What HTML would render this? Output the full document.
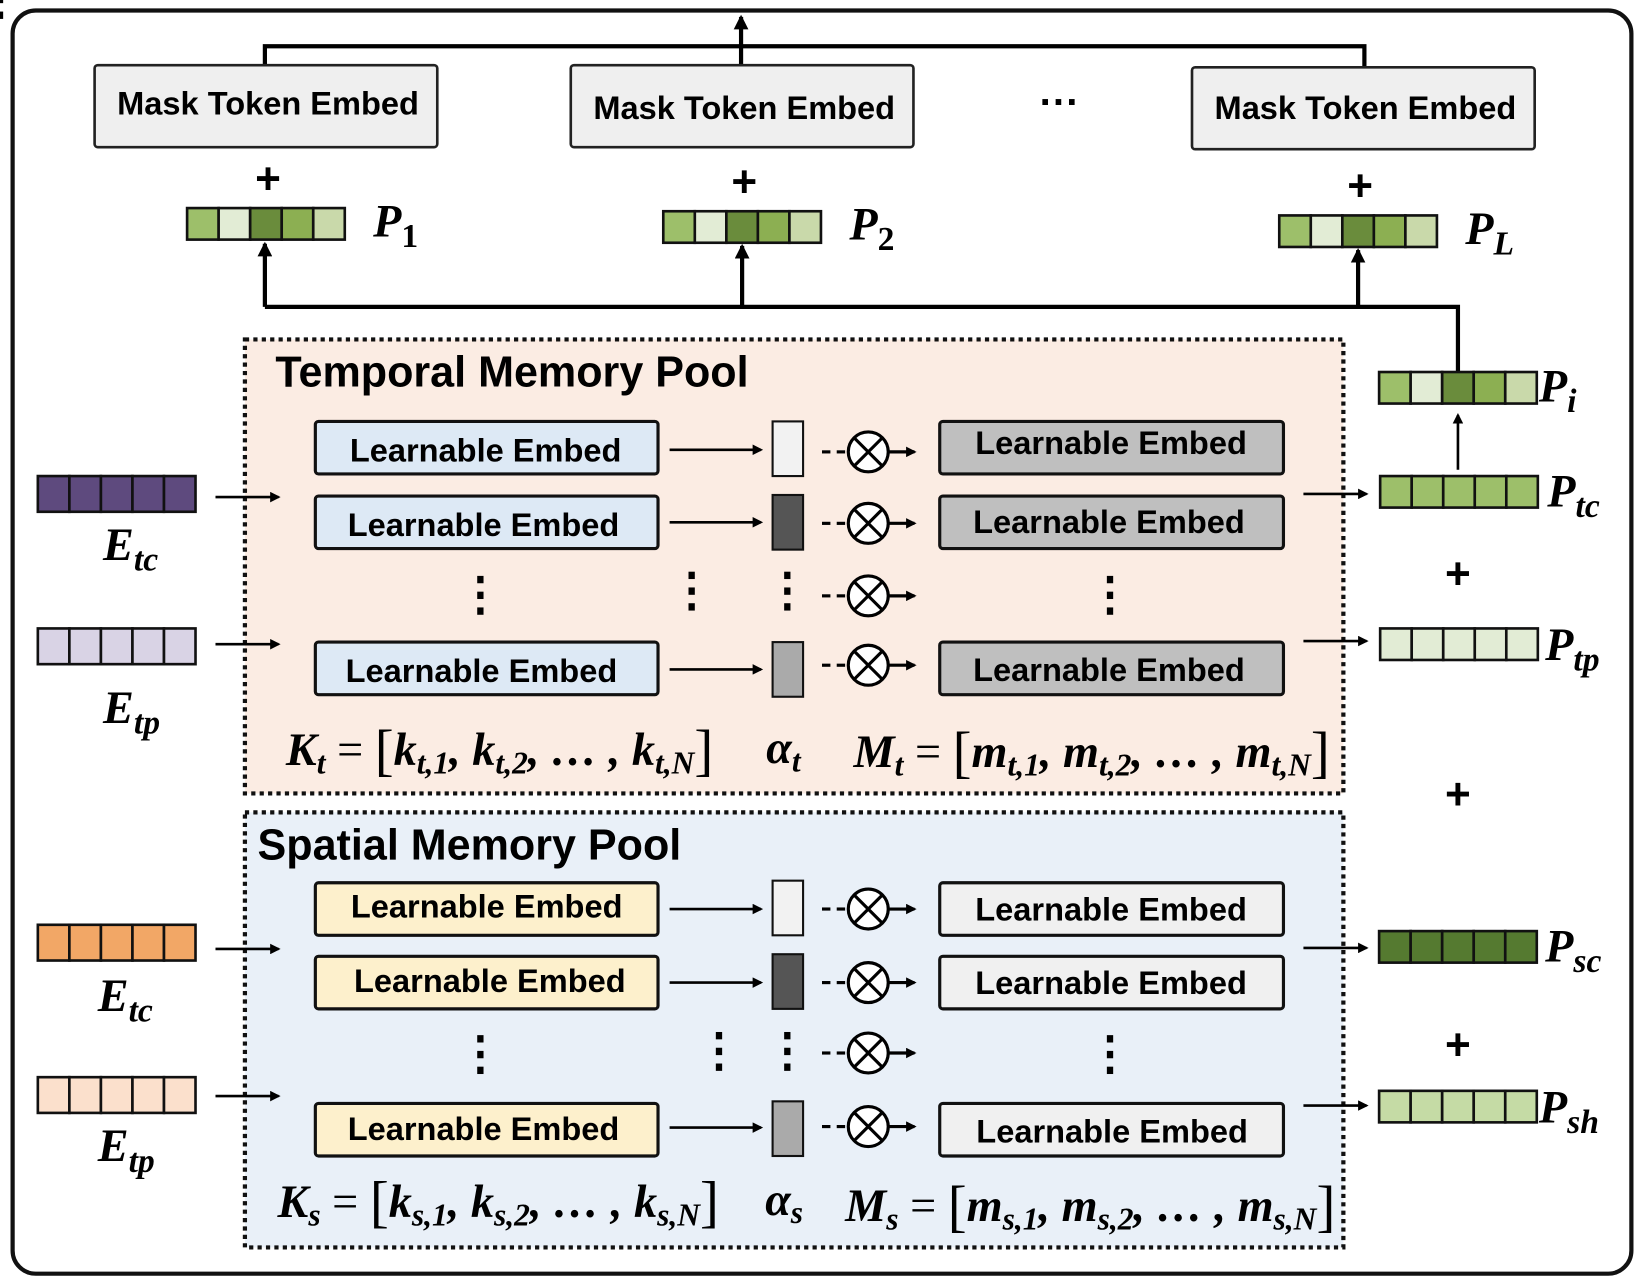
<!DOCTYPE html>
<html><head><style>html,body{margin:0;padding:0;background:#fff}svg{display:block}</style></head><body>
<svg width="1644" height="1280" viewBox="0 0 1564 1218" preserveAspectRatio="none" xmlns="http://www.w3.org/2000/svg">
<defs>
<marker id="ah" markerWidth="10" markerHeight="10" refX="8" refY="5" orient="auto" markerUnits="userSpaceOnUse"><path d="M0,0 L10,5 L0,10 z" fill="#000"/></marker>
<marker id="ab" markerWidth="14" markerHeight="14" refX="12" refY="7" orient="auto" markerUnits="userSpaceOnUse"><path d="M0,0 L14,7 L0,14 z" fill="#000"/></marker>
</defs>
<rect width="1564" height="1218" fill="#fff"/>
<rect x="12" y="10" width="1540" height="1202" rx="22" fill="none" stroke="#111" stroke-width="4"/>
<g font-family="Liberation Sans, sans-serif" font-weight="bold">
<path d="M252,62 V44 H1298 V64" fill="none" stroke="#000" stroke-width="4"/>
<line x1="705" y1="62" x2="705" y2="16" stroke="#000" stroke-width="4" marker-end="url(#ab)"/>
<g fill="#efefef" stroke="#222" stroke-width="2.5">
<rect x="90" y="62" width="326" height="78" rx="3"/>
<rect x="543" y="62" width="326" height="78" rx="3"/>
<rect x="1134" y="64" width="326" height="78" rx="3"/>
</g>
<g font-size="31" text-anchor="middle">
<text x="255" y="109">Mask Token Embed</text>
<text x="708" y="113">Mask Token Embed</text>
<text x="1299" y="113">Mask Token Embed</text>
</g>
<text x="1008" y="110" font-size="38" text-anchor="middle">···</text>
<g font-size="42" text-anchor="middle">
<text x="255" y="184">+</text><text x="708" y="187">+</text><text x="1294" y="191">+</text>
<text x="1387" y="560">+</text><text x="1387" y="770">+</text><text x="1387" y="1008">+</text>
</g>
<path d="M252,292 H1387 V354" fill="none" stroke="#000" stroke-width="4"/>
<line x1="252" y1="292" x2="252" y2="232" stroke="#000" stroke-width="4" marker-end="url(#ab)"/>
<line x1="706" y1="292" x2="706" y2="234" stroke="#000" stroke-width="4" marker-end="url(#ab)"/>
<line x1="1292" y1="292" x2="1292" y2="238" stroke="#000" stroke-width="4" marker-end="url(#ab)"/>
<line x1="1387" y1="447" x2="1387" y2="395" stroke="#000" stroke-width="2.5" marker-end="url(#ah)"/>
</g>
<g stroke="#111" stroke-width="2.5">
<g transform="translate(178,198)"><rect width="30" height="30" fill="#9dbf6a"/><rect x="30" width="30" height="30" fill="#e2ecd5"/><rect x="60" width="30" height="30" fill="#6a8c3c"/><rect x="90" width="30" height="30" fill="#8caf52"/><rect x="120" width="30" height="30" fill="#c9d9aa"/></g>
<g transform="translate(631,201)"><rect width="30" height="30" fill="#9dbf6a"/><rect x="30" width="30" height="30" fill="#e2ecd5"/><rect x="60" width="30" height="30" fill="#6a8c3c"/><rect x="90" width="30" height="30" fill="#8caf52"/><rect x="120" width="30" height="30" fill="#c9d9aa"/></g>
<g transform="translate(1217,205)"><rect width="30" height="30" fill="#9dbf6a"/><rect x="30" width="30" height="30" fill="#e2ecd5"/><rect x="60" width="30" height="30" fill="#6a8c3c"/><rect x="90" width="30" height="30" fill="#8caf52"/><rect x="120" width="30" height="30" fill="#c9d9aa"/></g>
<g transform="translate(1312,354)"><rect width="30" height="30" fill="#9dbf6a"/><rect x="30" width="30" height="30" fill="#e2ecd5"/><rect x="60" width="30" height="30" fill="#6a8c3c"/><rect x="90" width="30" height="30" fill="#8caf52"/><rect x="120" width="30" height="30" fill="#c9d9aa"/></g>
<g transform="translate(1313,453)" fill="#9dbf6a"><rect width="30" height="30"/><rect x="30" width="30" height="30"/><rect x="60" width="30" height="30"/><rect x="90" width="30" height="30"/><rect x="120" width="30" height="30"/></g>
<g transform="translate(1313,598)" fill="#e2ecd5"><rect width="30" height="30"/><rect x="30" width="30" height="30"/><rect x="60" width="30" height="30"/><rect x="90" width="30" height="30"/><rect x="120" width="30" height="30"/></g>
<g transform="translate(1312,886)" fill="#557a30"><rect width="30" height="30"/><rect x="30" width="30" height="30"/><rect x="60" width="30" height="30"/><rect x="90" width="30" height="30"/><rect x="120" width="30" height="30"/></g>
<g transform="translate(1312,1038)" fill="#c5dba5"><rect width="30" height="30"/><rect x="30" width="30" height="30"/><rect x="60" width="30" height="30"/><rect x="90" width="30" height="30"/><rect x="120" width="30" height="30"/></g>
<g transform="translate(36,453)" fill="#5e4a7e"><rect width="30" height="34"/><rect x="30" width="30" height="34"/><rect x="60" width="30" height="34"/><rect x="90" width="30" height="34"/><rect x="120" width="30" height="34"/></g>
<g transform="translate(36,598)" fill="#d9d3e5"><rect width="30" height="34"/><rect x="30" width="30" height="34"/><rect x="60" width="30" height="34"/><rect x="90" width="30" height="34"/><rect x="120" width="30" height="34"/></g>
<g transform="translate(36,880)" fill="#f2a766"><rect width="30" height="34"/><rect x="30" width="30" height="34"/><rect x="60" width="30" height="34"/><rect x="90" width="30" height="34"/><rect x="120" width="30" height="34"/></g>
<g transform="translate(36,1025)" fill="#fbe0cc"><rect width="30" height="34"/><rect x="30" width="30" height="34"/><rect x="60" width="30" height="34"/><rect x="90" width="30" height="34"/><rect x="120" width="30" height="34"/></g>
</g>
<g font-family="Liberation Serif, serif" font-style="italic" font-weight="bold" font-size="44">
<text x="355" y="225">P<tspan font-size="32" dy="10" font-style="normal">1</tspan></text>
<text x="808" y="228">P<tspan font-size="32" dy="10" font-style="normal">2</tspan></text>
<text x="1394" y="232">P<tspan font-size="32" dy="10">L</tspan></text>
<text x="1464" y="382">P<tspan font-size="32" dy="10">i</tspan></text>
<text x="1472" y="482">P<tspan font-size="32" dy="10">tc</tspan></text>
<text x="1470" y="628">P<tspan font-size="32" dy="10">tp</tspan></text>
<text x="1470" y="915">P<tspan font-size="32" dy="10">sc</tspan></text>
<text x="1464" y="1068">P<tspan font-size="32" dy="10">sh</tspan></text>
<text x="98" y="533">E<tspan font-size="32" dy="10">tc</tspan></text>
<text x="98" y="688">E<tspan font-size="32" dy="10">tp</tspan></text>
<text x="93" y="962">E<tspan font-size="32" dy="10">tc</tspan></text>
<text x="93" y="1105">E<tspan font-size="32" dy="10">tp</tspan></text>
</g>
<rect x="233" y="323" width="1045" height="432" fill="#fbece3" stroke="#111" stroke-width="4" stroke-dasharray="4,4"/>
<rect x="233" y="773" width="1045" height="414" fill="#e9f0f8" stroke="#111" stroke-width="4" stroke-dasharray="4,4"/>
<g font-family="Liberation Sans, sans-serif" font-weight="bold">
<text x="262" y="368" font-size="41">Temporal Memory Pool</text>
<text x="245" y="818" font-size="41">Spatial Memory Pool</text>
</g>
<g stroke="#000" stroke-width="2.5">
<line x1="205" y1="473" x2="265" y2="473" marker-end="url(#ah)"/>
<line x1="205" y1="613" x2="265" y2="613" marker-end="url(#ah)"/>
<line x1="205" y1="903" x2="265" y2="903" marker-end="url(#ah)"/>
<line x1="205" y1="1043" x2="265" y2="1043" marker-end="url(#ah)"/>
<line x1="1240" y1="470" x2="1300" y2="470" marker-end="url(#ah)"/>
<line x1="1240" y1="610" x2="1300" y2="610" marker-end="url(#ah)"/>
<line x1="1240" y1="902" x2="1300" y2="902" marker-end="url(#ah)"/>
<line x1="1240" y1="1052" x2="1300" y2="1052" marker-end="url(#ah)"/>
</g>
<g font-family="Liberation Sans, sans-serif" font-weight="bold" font-size="31" text-anchor="middle">
<g stroke="#111" stroke-width="3">
<rect x="300" y="401" width="326" height="50" rx="3" fill="#dde9f5"/>
<rect x="300" y="472" width="326" height="50" rx="3" fill="#dde9f5"/>
<rect x="300" y="611" width="326" height="50" rx="3" fill="#dde9f5"/>
<rect x="894" y="401" width="327" height="50" rx="3" fill="#bfbfbf"/>
<rect x="894" y="472" width="327" height="50" rx="3" fill="#bfbfbf"/>
<rect x="894" y="611" width="327" height="50" rx="3" fill="#bfbfbf"/>
<rect x="300" y="840" width="326" height="50" rx="3" fill="#fdf0cc"/>
<rect x="300" y="910" width="326" height="50" rx="3" fill="#fdf0cc"/>
<rect x="300" y="1050" width="326" height="50" rx="3" fill="#fdf0cc"/>
<rect x="894" y="840" width="327" height="50" rx="3" fill="#f0f0f0"/>
<rect x="894" y="910" width="327" height="50" rx="3" fill="#f0f0f0"/>
<rect x="894" y="1050" width="327" height="50" rx="3" fill="#f0f0f0"/>
<g stroke-width="2">
<rect x="735" y="401" width="29" height="52" fill="#f2f2f2"/>
<rect x="735" y="471" width="29" height="52" fill="#555"/>
<rect x="735" y="611" width="29" height="52" fill="#aaa"/>
<rect x="735" y="838" width="29" height="52" fill="#f2f2f2"/>
<rect x="735" y="908" width="29" height="52" fill="#555"/>
<rect x="735" y="1048" width="29" height="52" fill="#aaa"/>
</g>
</g>
<text x="462" y="439">Learnable Embed</text>
<text x="460" y="510">Learnable Embed</text>
<text x="458" y="649">Learnable Embed</text>
<text x="1057" y="432">Learnable Embed</text>
<text x="1055" y="507">Learnable Embed</text>
<text x="1055" y="648">Learnable Embed</text>
<text x="463" y="873">Learnable Embed</text>
<text x="466" y="944">Learnable Embed</text>
<text x="460" y="1085">Learnable Embed</text>
<text x="1057" y="876">Learnable Embed</text>
<text x="1057" y="946">Learnable Embed</text>
<text x="1058" y="1087">Learnable Embed</text>
</g>
<g stroke="#000" stroke-width="2.5">
<line x1="637" y1="428" x2="724" y2="428" marker-end="url(#ah)"/>
<line x1="637" y1="497" x2="724" y2="497" marker-end="url(#ah)"/>
<line x1="637" y1="637" x2="724" y2="637" marker-end="url(#ah)"/>
<line x1="637" y1="865" x2="724" y2="865" marker-end="url(#ah)"/>
<line x1="637" y1="935" x2="724" y2="935" marker-end="url(#ah)"/>
<line x1="637" y1="1073" x2="724" y2="1073" marker-end="url(#ah)"/>
</g>
<g stroke="#000" stroke-width="3" fill="#fff">
<g id="ot1" transform="translate(826,430)"><line x1="-44" y1="0" x2="-36" y2="0"/><line x1="-30" y1="0" x2="-22" y2="0"/><circle r="19"/><line x1="-13.4" y1="-13.4" x2="13.4" y2="13.4"/><line x1="-13.4" y1="13.4" x2="13.4" y2="-13.4"/><line x1="19" y1="0" x2="44" y2="0" marker-end="url(#ah)"/></g>
<use href="#ot1" y="68"/><use href="#ot1" y="137"/><use href="#ot1" y="203"/>
<use href="#ot1" y="435"/><use href="#ot1" y="505"/><use href="#ot1" y="572"/><use href="#ot1" y="642"/>
</g>
<g fill="#000">
<g id="vd"><rect x="-3" y="-19" width="6" height="7"/><rect x="-3" y="-4" width="6" height="7"/><rect x="-3" y="11" width="6" height="7"/></g>
<use href="#vd" x="457" y="567"/><use href="#vd" x="658" y="563"/><use href="#vd" x="749" y="563"/><use href="#vd" x="1056" y="567"/>
<use href="#vd" x="457" y="1004"/><use href="#vd" x="684" y="1001"/><use href="#vd" x="749" y="1001"/><use href="#vd" x="1056" y="1004"/>
</g>
<g font-family="Liberation Serif, serif" font-style="italic" font-weight="bold" font-size="44">
<text x="272" y="728">K<tspan font-size="30" dy="8">t</tspan><tspan dy="-8" font-style="normal" font-weight="normal"> = </tspan><tspan font-size="54" font-style="normal" font-weight="normal" dy="4">[</tspan><tspan dy="-4">k</tspan><tspan font-size="30" dy="8">t,1</tspan><tspan dy="-8">, </tspan>k<tspan font-size="30" dy="8">t,2</tspan><tspan dy="-8">, … , </tspan>k<tspan font-size="30" dy="8">t,N</tspan><tspan dy="-4" font-size="54" font-style="normal" font-weight="normal">]</tspan></text>
<text x="729" y="726">α<tspan font-size="30" dy="8">t</tspan></text>
<text x="812" y="730">M<tspan font-size="30" dy="8">t</tspan><tspan dy="-8" font-style="normal" font-weight="normal"> = </tspan><tspan font-size="54" font-style="normal" font-weight="normal" dy="4">[</tspan><tspan dy="-4">m</tspan><tspan font-size="30" dy="8">t,1</tspan><tspan dy="-8">, </tspan>m<tspan font-size="30" dy="8">t,2</tspan><tspan dy="-8">, … , </tspan>m<tspan font-size="30" dy="8">t,N</tspan><tspan dy="-4" font-size="54" font-style="normal" font-weight="normal">]</tspan></text>
<text x="264" y="1158">K<tspan font-size="30" dy="8">s</tspan><tspan dy="-8" font-style="normal" font-weight="normal"> = </tspan><tspan font-size="54" font-style="normal" font-weight="normal" dy="4">[</tspan><tspan dy="-4">k</tspan><tspan font-size="30" dy="8">s,1</tspan><tspan dy="-8">, </tspan>k<tspan font-size="30" dy="8">s,2</tspan><tspan dy="-8">, … , </tspan>k<tspan font-size="30" dy="8">s,N</tspan><tspan dy="-4" font-size="54" font-style="normal" font-weight="normal">]</tspan></text>
<text x="728" y="1156">α<tspan font-size="30" dy="8">s</tspan></text>
<text x="804" y="1162">M<tspan font-size="30" dy="8">s</tspan><tspan dy="-8" font-style="normal" font-weight="normal"> = </tspan><tspan font-size="54" font-style="normal" font-weight="normal" dy="4">[</tspan><tspan dy="-4">m</tspan><tspan font-size="30" dy="8">s,1</tspan><tspan dy="-8">, </tspan>m<tspan font-size="30" dy="8">s,2</tspan><tspan dy="-8">, … , </tspan>m<tspan font-size="30" dy="8">s,N</tspan><tspan dy="-4" font-size="54" font-style="normal" font-weight="normal">]</tspan></text>
</g>
</svg>
</body></html>
